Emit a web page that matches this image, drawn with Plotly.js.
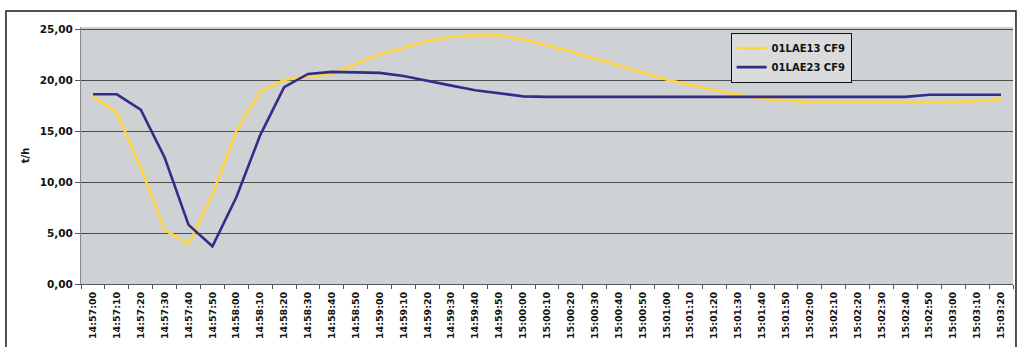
<!DOCTYPE html>
<html>
<head>
<meta charset="utf-8">
<script src="https://cdn.plot.ly/plotly-3.0.1.min.js"></script>
<style>html,body{margin:0;padding:0;background:#fff;}#chart{width:1019px;height:347px;}</style>
</head>
<body>
<div id="chart"></div>
<script>
const times = ["14:57:00","14:57:10","14:57:20","14:57:30","14:57:40","14:57:50","14:58:00","14:58:10","14:58:20","14:58:30",
  "14:58:40","14:58:50","14:59:00","14:59:10","14:59:20","14:59:30","14:59:40","14:59:50","15:00:00","15:00:10",
  "15:00:20","15:00:30","15:00:40","15:00:50","15:01:00","15:01:10","15:01:20","15:01:30","15:01:40","15:01:50",
  "15:02:00","15:02:10","15:02:20","15:02:30","15:02:40","15:02:50","15:03:00","15:03:10","15:03:20"];

const seriesNames = ["01LAE13 CF9", "01LAE23 CF9"];

const lae13 = [18.4,16.8,11.4,5.3,3.9,8.8,15.0,18.9,20.0,20.35,
  20.6,21.6,22.5,23.2,23.85,24.25,24.4,24.4,24.0,23.4,
  22.8,22.1,21.4,20.7,20.05,19.5,19.0,18.55,18.15,18.0,
  17.85,17.85,17.85,17.85,17.85,17.85,17.85,17.95,18.1];

const lae23 = [18.6,18.6,17.1,12.4,5.8,3.7,8.5,14.6,19.3,20.6,
  20.8,20.75,20.7,20.4,19.9,19.45,19.0,18.7,18.4,18.35,
  18.35,18.35,18.35,18.35,18.35,18.35,18.35,18.35,18.35,18.35,
  18.35,18.35,18.35,18.35,18.35,18.55,18.55,18.55,18.55];

const yTitle = "t/h";

const font = {family: "DejaVu Sans, Arial, sans-serif", weight: "bold", color: "#111"};

const traces = [
  {x: times, y: lae13, name: seriesNames[0], type: "scatter", mode: "lines",
   line: {color: "#ffd53f", width: 2.6}},
  {x: times, y: lae23, name: seriesNames[1], type: "scatter", mode: "lines",
   line: {color: "#352c88", width: 2.6}}
];

const layout = {
  width: 1019, height: 347,
  margin: {l: 81, r: 6, t: 27, b: 63},
  paper_bgcolor: "#ffffff",
  plot_bgcolor: "#cfd2d5",
  separators: ",.",
  font: Object.assign({size: 10}, font),
  showlegend: true,
  legend: {
    x: 0.697, y: 0.978, xanchor: "left", yanchor: "top",
    bgcolor: "#d9dbdd", bordercolor: "#111", borderwidth: 1,
    font: Object.assign({size: 10}, font),
    itemwidth: 30, tracegroupgap: 0
  },
  xaxis: {
    type: "category",
    range: [-0.5, times.length - 0.5],
    tickangle: -90,
    tickson: "boundaries",
    ticks: "outside", ticklen: 4, tickcolor: "#555", tickwidth: 1,
    ticklabelstandoff: 3,
    showgrid: false,
    showline: true, linecolor: "#555", linewidth: 1,
    tickfont: Object.assign({size: 9.5}, font),
    fixedrange: true
  },
  yaxis: {
    range: [0, 25.2],
    tick0: 0, dtick: 5,
    tickformat: ".2f",
    ticks: "outside", ticklen: 5, tickcolor: "#555",
    showgrid: true, gridcolor: "#4a4a4a", gridwidth: 1,
    zeroline: false,
    showline: true, linecolor: "#8a8a8a", linewidth: 1,
    tickfont: Object.assign({size: 10.5}, font),
    title: {text: yTitle, font: Object.assign({size: 10}, font), standoff: 8},
    fixedrange: true
  },
  shapes: [
    {type: "rect", xref: "paper", yref: "paper",
     x0: -0.0805, x1: 1.0032, y0: -0.4, y1: 1.0625,
     line: {color: "#1a1a1a", width: 1.5}, fillcolor: "rgba(0,0,0,0)", layer: "above"}
  ]
};

Plotly.newPlot("chart", traces, layout, {displayModeBar: false, staticPlot: true});
</script>
</body>
</html>
